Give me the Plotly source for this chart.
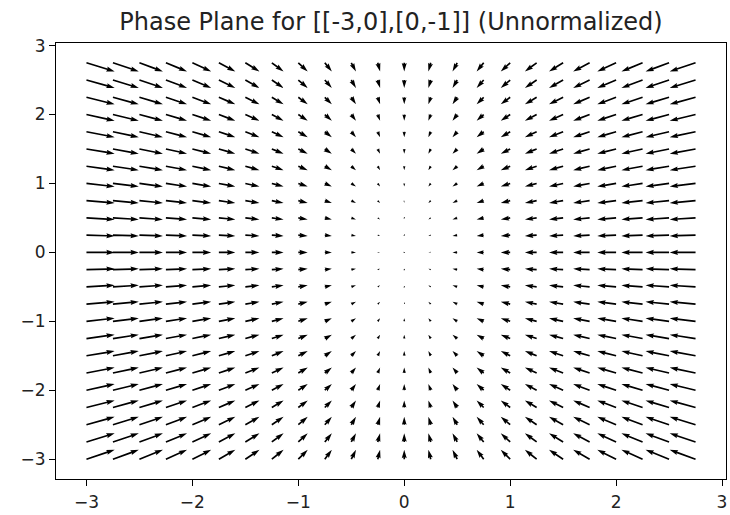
import math
import numpy as np
import plotly.graph_objects as go

# Data: system matrix and grid of sample points
matrix_A = [[-3, 0], [0, -1]]
x_values = [-3.0, -2.75, -2.5, -2.25, -2.0, -1.75, -1.5, -1.25, -1.0, -0.75, -0.5, -0.25,
            0.0, 0.25, 0.5, 0.75, 1.0, 1.25, 1.5, 1.75, 2.0, 2.25, 2.5, 2.75]
y_values = list(x_values)
x_ticks = [-3, -2, -1, 0, 1, 2, 3]
y_ticks = [-3, -2, -1, 0, 1, 2, 3]
title_text = "Phase Plane for [[-3,0],[0,-1]] (Unnormalized)"

# Layout geometry
W, H = 730, 515
ml, mr, mt, mb = 56, 4, 43, 36
pw, ph = W - ml - mr, H - mt - mb
xmin, xmax = min(x_values), max(x_values)
ymin, ymax = min(y_values), max(y_values)
pad_x = 0.05 * (xmax - xmin)
pad_y = 0.05 * (ymax - ymin)
xr = [xmin - pad_x, xmax + pad_x]
yr = [ymin - pad_y, ymax + pad_y]
ppx = pw / (xr[1] - xr[0])
ppy = ph / (yr[1] - yr[0])

X, Y = np.meshgrid(np.array(x_values), np.array(y_values))
A = np.array(matrix_A, float)
U = A[0, 0] * X + A[0, 1] * Y
V = A[1, 0] * X + A[1, 1] * Y

# matplotlib-like quiver autoscaling (units in pixels)
N = X.size
mag = np.hypot(U, V)
amean = mag.mean()
sn = max(10, math.sqrt(N))
scale = 1.8 * amean * sn / pw            # magnitude per pixel
w_px = 0.06 * pw / float(np.clip(math.sqrt(N), 8, 25))
headwidth, headlength, headaxislength = 3.0, 5.0, 4.5
minsh = 1.0 * headlength
minlength = 1.0

xs, ys = [], []
ii = [0, 1, 2, 3, 2, 1, 0, 0]
for xi, yi, ui, vi, ai in zip(X.ravel(), Y.ravel(), U.ravel(), V.ravel(), mag.ravel()):
    L = (ai / scale) / w_px   # length in shaft widths
    if L < minlength:
        th = np.arange(0, 8) * (np.pi / 3.0)
        vx = np.cos(th) * minlength * 0.5
        vy = np.sin(th) * minlength * 0.5
    elif L < minsh:
        x0 = np.array([0, minsh - headaxislength, minsh - headlength, minsh])
        y0 = 0.5 * np.array([1, 1, headwidth, 0])
        vx = x0[ii].copy()
        vy = y0[ii].copy()
        vy[3:-1] *= -1
        s = L / minsh
        vx *= s
        vy *= s
    else:
        x1 = np.array([0, -headaxislength, -headlength, 0]) + np.array([0, 1, 1, 1]) * L
        y1 = 0.5 * np.array([1, 1, headwidth, 0])
        vx = x1[ii].copy()
        vy = y1[ii].copy()
        vy[3:-1] *= -1
    ang = math.atan2(vi, ui)
    ca, sa = math.cos(ang), math.sin(ang)
    rx = (vx * ca - vy * sa) * w_px
    ry = (vx * sa + vy * ca) * w_px
    xs.extend(list(xi + rx / ppx) + [None])
    ys.extend(list(yi + ry / ppy) + [None])

fig = go.Figure()
fig.add_trace(go.Scatter(
    x=xs, y=ys, mode="lines", fill="toself",
    fillcolor="black", line=dict(color="black", width=0),
    hoverinfo="skip", showlegend=False,
))

axis_common = dict(
    showgrid=False, zeroline=False, showline=True, linecolor="black", linewidth=1,
    mirror=True, ticks="outside", ticklen=6, tickwidth=1, tickcolor="black",
    tickfont=dict(family="DejaVu Sans", size=17, color="#222"),
    automargin=False,
)
fig.update_xaxes(range=xr, tickvals=x_ticks, ticklabelstandoff=2, **axis_common)
fig.update_yaxes(range=yr, tickvals=y_ticks, **axis_common)

fig.update_layout(
    width=W, height=H,
    margin=dict(l=ml, r=mr, t=mt, b=mb),
    plot_bgcolor="white", paper_bgcolor="white",
    title=dict(text=title_text, x=0.5, xref="paper", xanchor="center",
               y=1 - 22 / H, yanchor="middle",
               font=dict(family="DejaVu Sans", size=24, color="#222"),
               automargin=False),
)

fig.write_html(
    "out.html",
    config={"displayModeBar": False},
    post_script="document.body.style.margin='0px';document.body.style.overflow='hidden';",
)
